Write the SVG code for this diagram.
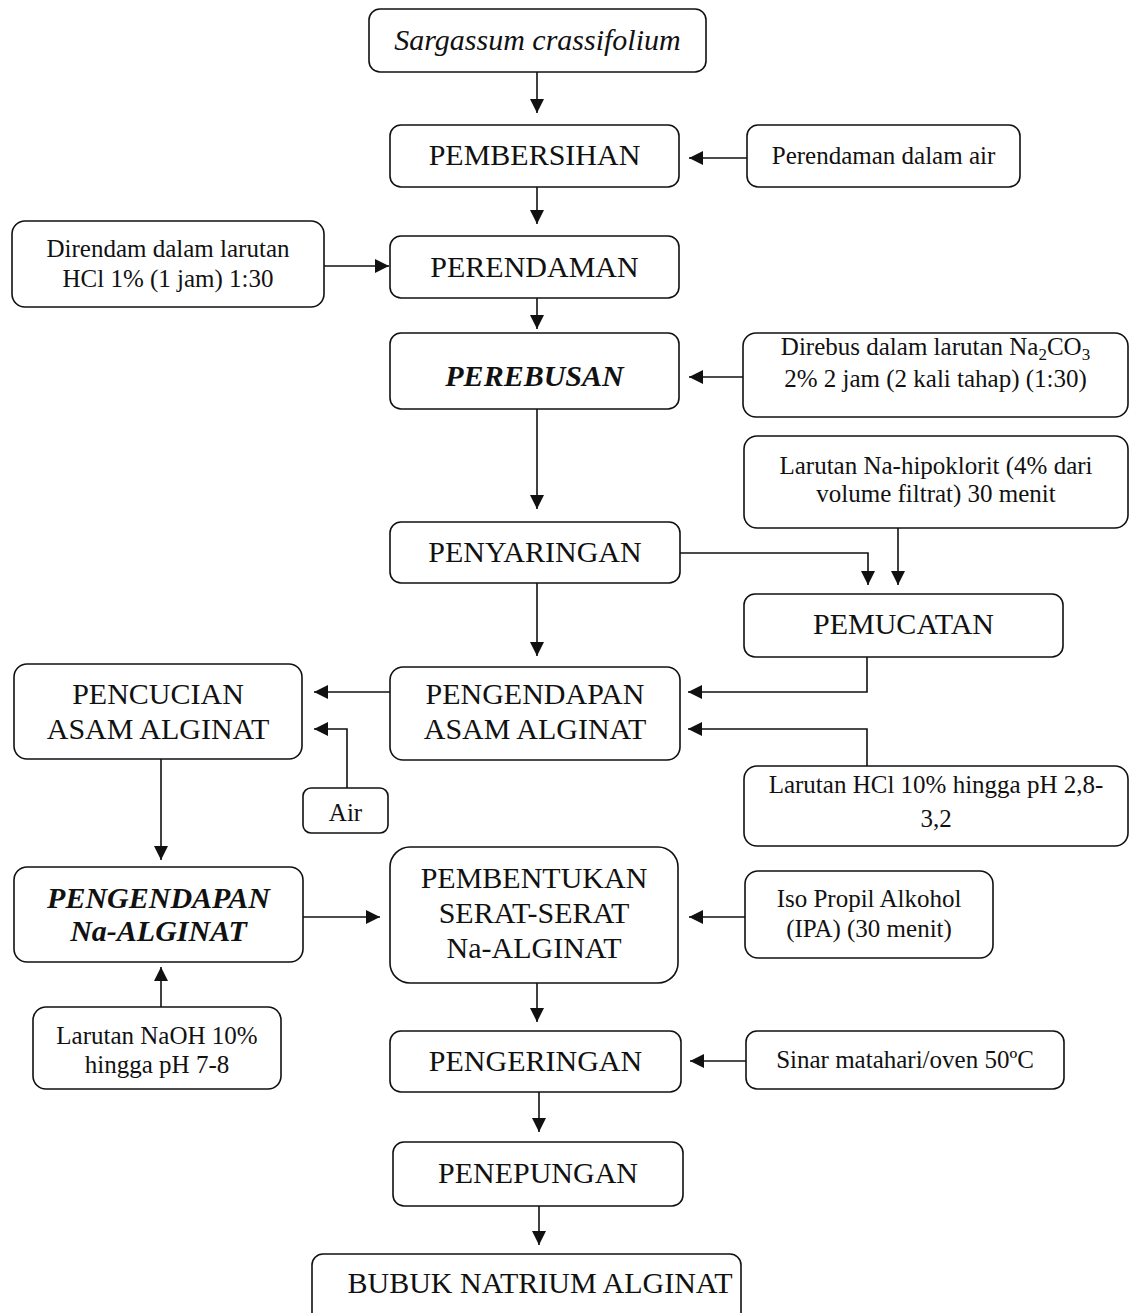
<svg xmlns="http://www.w3.org/2000/svg" width="1129" height="1313" viewBox="0 0 1129 1313">
<defs>
<style>
.box{fill:#fff;stroke:#111;stroke-width:1.6}
.t{font-family:"Liberation Serif","Times New Roman",serif;fill:#111;text-anchor:middle}
.m{font-size:30px}
.s{font-size:25px}
.i{font-style:italic}
.bi{font-style:italic;font-weight:bold}
.c{fill:none;stroke:#111;stroke-width:1.6}
</style>
<marker id="ah" viewBox="0 0 10 10" refX="10" refY="5" markerWidth="14" markerHeight="14" markerUnits="userSpaceOnUse" orient="auto">
<path d="M0,0 L10,5 L0,10 z" fill="#111"/>
</marker>
</defs>
<rect width="1129" height="1313" fill="#fff"/>

<g id="connectors">
<path class="c" d="M537,72 V113" marker-end="url(#ah)"/>
<path class="c" d="M747,158 H689" marker-end="url(#ah)"/>
<path class="c" d="M537,187 V224" marker-end="url(#ah)"/>
<path class="c" d="M324,266 H389" marker-end="url(#ah)"/>
<path class="c" d="M537,298 V329" marker-end="url(#ah)"/>
<path class="c" d="M743,377 H689" marker-end="url(#ah)"/>
<path class="c" d="M537,409 V509" marker-end="url(#ah)"/>
<path class="c" d="M680,553 H868 V585" marker-end="url(#ah)"/>
<path class="c" d="M898,528 V585" marker-end="url(#ah)"/>
<path class="c" d="M537,583 V656" marker-end="url(#ah)"/>
<path class="c" d="M867,657 V692 H688" marker-end="url(#ah)"/>
<path class="c" d="M867,766 V729 H688" marker-end="url(#ah)"/>
<path class="c" d="M390,692 H314" marker-end="url(#ah)"/>
<path class="c" d="M347,788 V729 H314" marker-end="url(#ah)"/>
<path class="c" d="M161,759 V860" marker-end="url(#ah)"/>
<path class="c" d="M161,1007 V967" marker-end="url(#ah)"/>
<path class="c" d="M303,917 H380" marker-end="url(#ah)"/>
<path class="c" d="M745,917 H689" marker-end="url(#ah)"/>
<path class="c" d="M537,983 V1022" marker-end="url(#ah)"/>
<path class="c" d="M746,1061 H690" marker-end="url(#ah)"/>
<path class="c" d="M539,1092 V1132" marker-end="url(#ah)"/>
<path class="c" d="M539,1206 V1245" marker-end="url(#ah)"/>
</g>

<g id="n_sargassum"><rect class="box" x="369" y="9" width="337" height="63" rx="11"/><text class="t m i" x="537.5" y="50">Sargassum crassifolium</text></g>
<g id="n_pembersihan"><rect class="box" x="390" y="125" width="289" height="62" rx="11"/><text class="t m" x="534.5" y="165">PEMBERSIHAN</text></g>
<g id="n_perendaman_air"><rect class="box" x="747" y="125" width="273" height="62" rx="11"/><text class="t s" x="883.5" y="164">Perendaman dalam air</text></g>
<g id="n_perendaman"><rect class="box" x="390" y="236" width="289" height="62" rx="11"/><text class="t m" x="534.5" y="277">PERENDAMAN</text></g>
<g id="n_direndam"><rect class="box" x="12" y="221" width="312" height="86" rx="13"/><text class="t s" x="168" y="257">Direndam dalam larutan</text><text class="t s" x="168" y="287">HCl 1% (1 jam) 1:30</text></g>
<g id="n_perebusan"><rect class="box" x="390" y="333" width="289" height="76" rx="11"/><text class="t m bi" x="534.5" y="386">PEREBUSAN</text></g>
<g id="n_direbus"><rect class="box" x="743" y="333" width="385" height="84" rx="13"/><text class="t s" x="935.5" y="355">Direbus dalam larutan Na<tspan font-size="17" dy="5">2</tspan><tspan dy="-5">CO</tspan><tspan font-size="17" dy="5">3</tspan></text><text class="t s" x="935.5" y="387">2% 2 jam (2 kali tahap) (1:30)</text></g>
<g id="n_hipoklorit"><rect class="box" x="744" y="436" width="384" height="92" rx="13"/><text class="t s" x="936" y="474">Larutan Na-hipoklorit (4% dari</text><text class="t s" x="936" y="502">volume filtrat) 30 menit</text></g>
<g id="n_penyaringan"><rect class="box" x="390" y="522" width="290" height="61" rx="11"/><text class="t m" x="535" y="562">PENYARINGAN</text></g>
<g id="n_pemucatan"><rect class="box" x="744" y="594" width="319" height="63" rx="11"/><text class="t m" x="903.5" y="634">PEMUCATAN</text></g>
<g id="n_pengendapan_asam"><rect class="box" x="390" y="667" width="290" height="93" rx="13"/><text class="t m" x="535" y="704">PENGENDAPAN</text><text class="t m" x="535" y="739">ASAM ALGINAT</text></g>
<g id="n_pencucian"><rect class="box" x="14" y="664" width="288" height="95" rx="13"/><text class="t m" x="158" y="704">PENCUCIAN</text><text class="t m" x="158" y="739">ASAM ALGINAT</text></g>
<g id="n_air"><rect class="box" x="303" y="788" width="85" height="45" rx="8"/><text class="t s" x="345.5" y="821">Air</text></g>
<g id="n_hcl10"><rect class="box" x="744" y="766" width="384" height="80" rx="13"/><text class="t s" x="936" y="793">Larutan HCl 10% hingga pH 2,8-</text><text class="t s" x="936" y="827">3,2</text></g>
<g id="n_pengendapan_na"><rect class="box" x="14" y="867" width="289" height="95" rx="13"/><text class="t m bi" x="158.5" y="908">PENGENDAPAN</text><text class="t m bi" x="158.5" y="941">Na-ALGINAT</text></g>
<g id="n_naoh"><rect class="box" x="33" y="1007" width="248" height="82" rx="13"/><text class="t s" x="157" y="1044">Larutan NaOH 10%</text><text class="t s" x="157" y="1073">hingga pH 7-8</text></g>
<g id="n_pembentukan"><rect class="box" x="390" y="847" width="288" height="136" rx="20"/><text class="t m" x="534" y="888">PEMBENTUKAN</text><text class="t m" x="534" y="923">SERAT-SERAT</text><text class="t m" x="534" y="958">Na-ALGINAT</text></g>
<g id="n_iso"><rect class="box" x="745" y="871" width="248" height="87" rx="13"/><text class="t s" x="869" y="907">Iso Propil Alkohol</text><text class="t s" x="869" y="937">(IPA) (30 menit)</text></g>
<g id="n_pengeringan"><rect class="box" x="390" y="1031" width="291" height="61" rx="11"/><text class="t m" x="535.5" y="1071">PENGERINGAN</text></g>
<g id="n_sinar"><rect class="box" x="746" y="1031" width="318" height="58" rx="11"/><text class="t s" x="905" y="1068">Sinar matahari/oven 50ºC</text></g>
<g id="n_penepungan"><rect class="box" x="393" y="1142" width="290" height="64" rx="11"/><text class="t m" x="538" y="1183">PENEPUNGAN</text></g>
<g id="n_bubuk"><rect class="box" x="312" y="1254" width="429" height="70" rx="11"/><text class="t m" x="540" y="1293">BUBUK NATRIUM ALGINAT</text></g>
</svg>
